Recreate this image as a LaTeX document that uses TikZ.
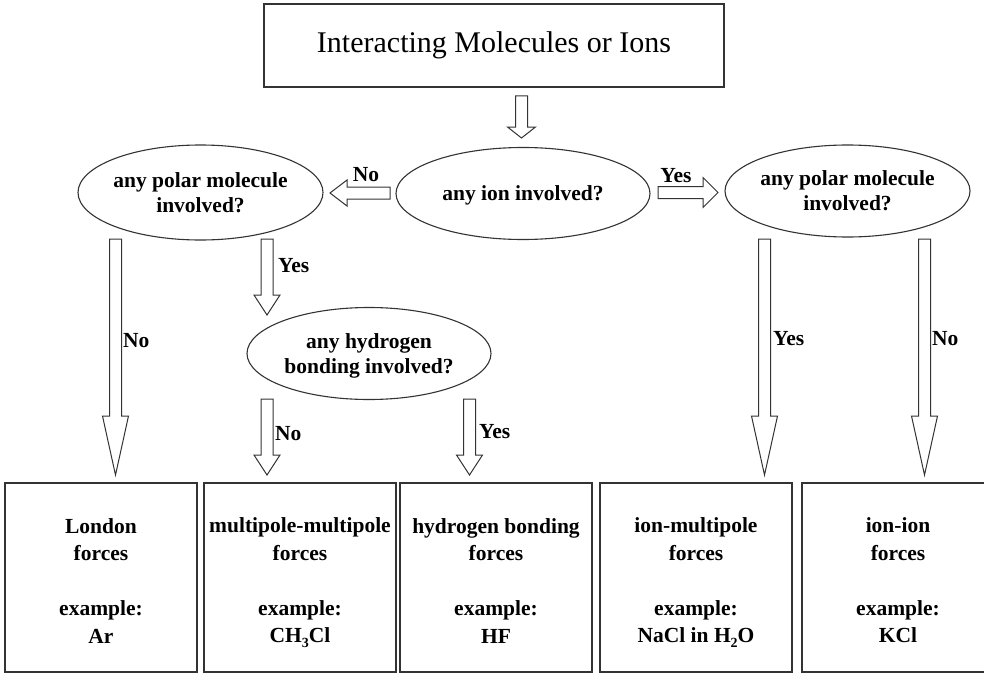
\documentclass[tikz,border=0pt]{standalone}
\usepackage{fontspec}
\setmainfont{Liberation Serif}
\usetikzlibrary{shapes.geometric,calc}

% zero-width line so the ellipse keeps its own size
\newcommand\oneline[1]{\makebox[0pt]{#1}}
% lowered subscript digit that does not change the line depth
\newcommand\low[1]{\raisebox{-5pt}[0pt][0pt]{\fontsize{14}{14}\selectfont #1}}
% extra head room on the first line of a result box
\newcommand\tall{\rule{0pt}{21pt}}

% hollow block arrows: #1 start, #2 tip, #3 head length, #4 head half-width
\newcommand\hollowdown[4]{%
  \draw[hollow] let \p1=(#1), \p2=(#2) in
    (\x1-6pt,\y1) -- (\x1+6pt,\y1) -- (\x1+6pt,\y2+#3pt) -- (\x1+#4pt,\y2+#3pt)
    -- (\x1,\y2) -- (\x1-#4pt,\y2+#3pt) -- (\x1-6pt,\y2+#3pt) -- cycle;}
\newcommand\hollowleft[4]{%
  \draw[hollow] let \p1=(#1), \p2=(#2) in
    (\x1,\y1+6pt) -- (\x1,\y1-6pt) -- (\x2+#3pt,\y1-6pt) -- (\x2+#3pt,\y1-#4pt)
    -- (\x2,\y1) -- (\x2+#3pt,\y1+#4pt) -- (\x2+#3pt,\y1+6pt) -- cycle;}
\newcommand\hollowright[4]{%
  \draw[hollow] let \p1=(#1), \p2=(#2) in
    (\x1,\y1+6pt) -- (\x2-#3pt,\y1+6pt) -- (\x2-#3pt,\y1+#4pt) -- (\x2,\y1)
    -- (\x2-#3pt,\y1-#4pt) -- (\x2-#3pt,\y1-6pt) -- (\x1,\y1-6pt) -- cycle;}

\tikzset{
  outline/.style={draw=black!80, line width=1.1pt},
  titlebox/.style={outline, rectangle, minimum width=460pt, minimum height=83pt,
    inner sep=0pt, font=\fontsize{30}{36}\selectfont},
  query/.style={outline, ellipse, inner sep=0pt, align=center, text depth=0pt,
    font=\fontsize{21.5}{25}\selectfont\bfseries},
  result/.style={outline, rectangle, minimum width=192pt, minimum height=189pt,
    inner sep=0pt, align=center, font=\fontsize{21.5}{27.5}\selectfont\bfseries},
  answer/.style={inner sep=0pt, font=\fontsize{21.5}{25}\selectfont\bfseries},
  hollow/.style={draw=black!80, line width=1pt, fill=white, line join=miter},
}

\begin{document}
\begin{tikzpicture}[x=1pt, y=-1pt]
\useasboundingbox (0,0) rectangle (984,674);
\clip (0,0) rectangle (984,674);

% title
\node[titlebox] (title) at (494,45.5) {Interacting Molecules or Ions};

% decision ellipses
\node[query, minimum width=254pt, minimum height=92pt] (ion) at (523,193.5)
  {\oneline{any ion involved?}};
\node[query, minimum width=245pt, minimum height=95pt] (polL) at (200.5,192.5)
  {\oneline{any polar molecule}\\\oneline{involved?}};
\node[query, minimum width=245pt, minimum height=92pt] (polR) at (847.5,191)
  {\oneline{any polar molecule}\\\oneline{involved?}};
\node[query, minimum width=244pt, minimum height=92pt] (hyd) at (369,353.5)
  {\oneline{any hydrogen}\\\oneline{bonding involved?}};

% outcome boxes
\node[result] (lon) at (101,577.5)
  {\tall London\\forces\\[27.5pt]example:\\Ar};
\node[result] (mul) at (300,577.5)
  {\tall multipole-multipole\\forces\\[27.5pt]example:\\CH\low{3}Cl};
\node[result] (hbf) at (496,577.5)
  {\tall hydrogen bonding\\forces\\[27.5pt]example:\\HF};
\node[result] (imp) at (696,577.5)
  {\tall ion-multipole\\forces\\[27.5pt]example:\\NaCl in H\low{2}O};
\node[result] (iio) at (898,577.5)
  {\tall ion-ion\\forces\\[27.5pt]example:\\KCl};

% arrow end points
\coordinate (t0) at (521.5,96);   \coordinate (t1) at (521.5,138);
\coordinate (n0) at (390,193);    \coordinate (n1) at (330,193);
\coordinate (y0) at (658,192.5);  \coordinate (y1) at (718,192.5);
\coordinate (ln0) at (115.5,239); \coordinate (ln1) at (115.5,475);
\coordinate (ly0) at (267,239);   \coordinate (ly1) at (267,315);
\coordinate (hn0) at (267,399);   \coordinate (hn1) at (267,475);
\coordinate (hy0) at (469.5,399); \coordinate (hy1) at (469.5,475);
\coordinate (ry0) at (764.5,239); \coordinate (ry1) at (764.5,475);
\coordinate (rn0) at (924.5,239); \coordinate (rn1) at (924.5,475);

% connectors
\hollowdown{t0}{t1}{11}{14}
\hollowleft{n0}{n1}{17}{13}
\hollowright{y0}{y1}{15}{15}
\hollowdown{ln0}{ln1}{59}{13}
\hollowdown{ly0}{ly1}{20}{13}
\hollowdown{hn0}{hn1}{20}{13}
\hollowdown{hy0}{hy1}{20}{13}
\hollowdown{ry0}{ry1}{59}{13}
\hollowdown{rn0}{rn1}{59}{13}

% branch labels
\node[answer] (lbN)  at (366,175) {No};
\node[answer] (lbY)  at (676,176) {Yes};
\node[answer, anchor=west] (lbLN) at (123,341) {No};
\node[answer, anchor=west] (lbLY) at (278,266) {Yes};
\node[answer, anchor=west] (lbHN) at (275,434) {No};
\node[answer, anchor=west] (lbHY) at (479,432) {Yes};
\node[answer, anchor=west] (lbRY) at (773,339) {Yes};
\node[answer, anchor=west] (lbRN) at (932,339) {No};
\end{tikzpicture}
\end{document}
